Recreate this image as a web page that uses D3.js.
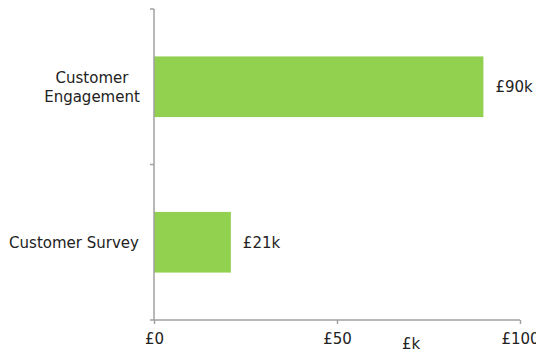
<!DOCTYPE html>
<html lang="en">
<head>
<meta charset="UTF-8">
<script src="https://d3js.org/d3.v7.min.js"></script>
<style>
  body { margin: 0; background: #fff; }
  svg text { font-family: "DejaVu Sans", Verdana, sans-serif; font-size: 15px; fill: #222; }
  .axis path, .axis line { stroke: #a0a0a0; stroke-width: 1.5px; }
</style>
</head>
<body>
<script>
// chart data
var categories = ["Customer Engagement", "Customer Survey"];
var values = [90, 21];           // £k
var valueLabels = ["£90k", "£21k"];
var xTicks = [0, 50, 100];
var xTickLabels = ["£0", "£50", "£100"];

var width = 536, height = 352;
var plotLeft = 154, plotRight = 520, plotTop = 9, plotBottom = 320;

var svg = d3.select("body").append("svg")
  .attr("width", width)
  .attr("height", height);

var x = d3.scaleLinear().domain([0, 100]).range([plotLeft, plotRight]);
var y = d3.scaleBand().domain(categories).range([plotTop, plotBottom])
  .paddingInner(0.61).paddingOuter(0.305);

// bars
svg.selectAll("rect.bar")
  .data(values)
  .enter().append("rect")
  .attr("class", "bar")
  .attr("x", x(0))
  .attr("y", function(d, i) { return y(categories[i]); })
  .attr("width", function(d) { return x(d) - x(0); })
  .attr("height", y.bandwidth())
  .attr("fill", "#92d050");

// value labels
svg.selectAll("text.val")
  .data(values)
  .enter().append("text")
  .attr("class", "val")
  .attr("x", function(d) { return x(d) + 12; })
  .attr("y", function(d, i) { return y(categories[i]) + y.bandwidth() / 2; })
  .attr("dy", "0.35em")
  .text(function(d, i) { return valueLabels[i]; });

// y axis: line with ticks at category boundaries
var yAxis = svg.append("g").attr("class", "axis");
yAxis.append("line")
  .attr("x1", plotLeft).attr("x2", plotLeft)
  .attr("y1", plotTop).attr("y2", plotBottom);
var step = y.step();
d3.range(categories.length + 1).forEach(function(i) {
  yAxis.append("line")
    .attr("x1", plotLeft - 4).attr("x2", plotLeft)
    .attr("y1", plotTop + i * step).attr("y2", plotTop + i * step);
});

// category labels
categories.forEach(function(c) {
  var cy = y(c) + y.bandwidth() / 2;
  var words = c === "Customer Engagement" ? ["Customer", "Engagement"] : [c];
  var lx = words.length > 1 ? 92 : 74;
  var t = svg.append("text")
    .attr("text-anchor", "middle")
    .attr("x", lx)
    .attr("y", cy - (words.length - 1) * 9.5);
  words.forEach(function(w, j) {
    t.append("tspan")
      .attr("x", lx)
      .attr("dy", j === 0 ? "0.35em" : 19)
      .text(w);
  });
});

// x axis
var xAxis = svg.append("g")
  .attr("class", "axis")
  .attr("transform", "translate(0," + plotBottom + ")")
  .call(d3.axisBottom(x).tickValues(xTicks)
    .tickFormat(function(d, i) { return xTickLabels[i]; })
    .tickSize(4).tickSizeOuter(0).tickPadding(9));
xAxis.attr("font-size", null).attr("font-family", null);
xAxis.select(".domain").attr("d", "M" + plotLeft + ",0H" + plotRight);
xAxis.selectAll("text").attr("fill", null);

// axis title
svg.append("text")
  .attr("x", 411)
  .attr("y", 349)
  .attr("text-anchor", "middle")
  .text("£k");
</script>
</body>
</html>
